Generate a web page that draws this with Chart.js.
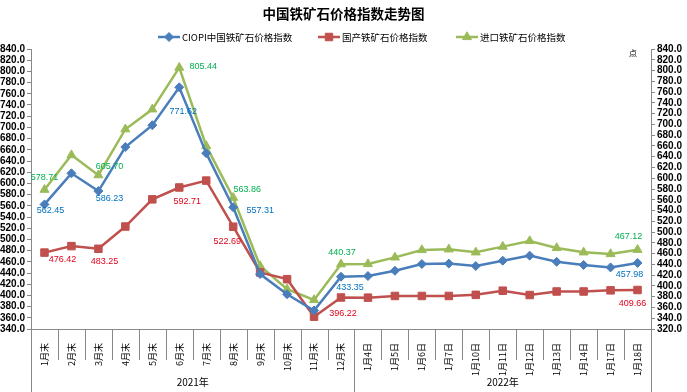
<!DOCTYPE html>
<html>
<head>
<meta charset="utf-8">
<script src="https://cdn.jsdelivr.net/npm/chart.js@4.4.1/dist/chart.umd.min.js"></script>
<style>
html, body { margin: 0; padding: 0; background: #fff; }
#wrap { width: 687px; height: 392px; }
</style>
</head>
<body>
<div id="wrap"><canvas id="chart"></canvas></div>
<script>
// categories (two level axis: month-ends of 2021, trading days of 2022)
const categories = ['1月末', '2月末', '3月末', '4月末', '5月末', '6月末', '7月末', '8月末', '9月末', '10月末', '11月末', '12月末',
    '1月4日', '1月5日', '1月6日', '1月7日', '1月10日', '1月11日', '1月12日', '1月13日', '1月14日', '1月17日', '1月18日'];
const yearLabels = ['2021年', '2022年'];
const yearStarts = [0, 12];

// series values
const ciopi = [562.45, 618, 586.23, 665, 704, 771.62, 654, 557.31, 438, 402, 373, 433.35,
    434.6, 444, 456, 456.8, 452.5, 462, 471, 460, 454.3, 450, 457.98];
const domestic = [476.42, 488, 483.25, 523, 571.5, 592.71, 605, 522.69, 441, 429, 362, 396.22,
    396, 399, 399, 399, 401, 408.4, 400.7, 407, 407, 409, 409.66];
const imported = [578.71, 643, 605.70, 691, 728, 805.44, 660, 563.86, 437, 394, 374, 440.37,
    440.7, 453, 466.7, 468, 462.4, 473, 483.5, 470.5, 462.4, 459.3, 467.12];

// which points carry a value label
const labelIndex = [0, 2, 5, 7, 11, 22];

// axis ranges
const leftMin = 340, leftMax = 840;
const rightMin = 320, rightMax = 840;
const tickStep = 20;

const CJK = '"Noto Sans CJK SC", "Liberation Sans", sans-serif';
const SANS = '"Liberation Sans", Arial, sans-serif';

// label placement relative to the point (dx, dy)
const labelOffsets = [
    [[6, 6], [11, 7], [4, 24], [27, 3], [9, 11], [-8, 12]],
    [[18, 7], [6, 13], [8, 14], [-6, 15], [2, 16], [-5, 14]],
    [[0, -12], [11, -9], [24, -1], [14, -8], [1, -12], [-9, -13]]
];
const labelColors = ['#0070C0', '#E0001B', '#00B050'];

const valueLabels = {
    id: 'valueLabels',
    afterDatasetsDraw(chart) {
        const ctx = chart.ctx;
        ctx.save();
        ctx.font = '9px ' + SANS;
        ctx.textAlign = 'center';
        ctx.textBaseline = 'middle';
        chart.data.datasets.forEach((ds, d) => {
            const meta = chart.getDatasetMeta(d);
            ctx.fillStyle = labelColors[d];
            labelIndex.forEach((idx, k) => {
                const pt = meta.data[idx];
                const off = labelOffsets[d][k];
                ctx.fillText(ds.data[idx].toFixed(2), pt.x + off[0], pt.y + off[1]);
            });
        });
        ctx.restore();
    }
};

// separators and year row under the category axis, plus legend
const axisDecor = {
    id: 'axisDecor',
    afterDraw(chart) {
        const ctx = chart.ctx;
        const xs = chart.scales.x;
        const bottom = chart.chartArea.bottom;
        const edge = i => {
            if (i <= 0) return xs.left;
            if (i >= categories.length) return xs.right;
            return (xs.getPixelForValue(i - 1) + xs.getPixelForValue(i)) / 2;
        };
        ctx.save();
        ctx.strokeStyle = '#888';
        ctx.lineWidth = 1;
        for (let i = 0; i <= categories.length; i++) {
            const isGroup = i === 0 || i === categories.length || yearStarts.includes(i);
            const x = Math.round(edge(i)) + 0.5;
            ctx.beginPath();
            ctx.moveTo(x, bottom);
            ctx.lineTo(x, isGroup ? chart.height : bottom + 31);
            ctx.stroke();
        }
        ctx.fillStyle = '#000';
        ctx.font = '10px ' + CJK;
        ctx.textAlign = 'center';
        ctx.textBaseline = 'middle';
        yearLabels.forEach((lab, g) => {
            const from = yearStarts[g];
            const to = g + 1 < yearStarts.length ? yearStarts[g + 1] : categories.length;
            ctx.fillText(lab, (edge(from) + edge(to)) / 2, 382);
        });

        // unit of the right axis
        ctx.font = '8px ' + CJK;
        ctx.fillText('点', 633, 53);

        // legend: line with marker, then the name
        ctx.font = '9.5px ' + CJK;
        ctx.textAlign = 'left';
        const legendX = [158, 318, 456];
        chart.data.datasets.forEach((ds, d) => {
            const x = legendX[d], y = 37;
            ctx.strokeStyle = ds.borderColor;
            ctx.lineWidth = 2.5;
            ctx.beginPath();
            ctx.moveTo(x, y);
            ctx.lineTo(x + 22, y);
            ctx.stroke();
            ctx.fillStyle = ds.backgroundColor;
            ctx.strokeStyle = ds.borderColor;
            ctx.lineWidth = 1;
            Chart.helpers.drawPoint(ctx, { pointStyle: ds.pointStyle, radius: ds.pointRadius, rotation: 0, borderWidth: 1 }, x + 11, y);
            ctx.fillStyle = '#000';
            ctx.fillText(ds.label, x + 24, y + 0.5);
        });
        ctx.restore();
    }
};

const yTicks = {
    stepSize: tickStep,
    autoSkip: false,
    color: '#000',
    padding: 2,
    font: { family: SANS, size: 10, weight: 'bold' },
    callback: v => Number(v).toFixed(1)
};

new Chart(document.getElementById('chart'), {
    type: 'line',
    data: {
        labels: categories,
        datasets: [{
            label: 'CIOPI中国铁矿石价格指数',
            data: ciopi,
            yAxisID: 'y',
            borderColor: '#4A7EBB',
            backgroundColor: '#4A7EBB',
            borderWidth: 2.5,
            pointStyle: 'rectRot',
            pointRadius: 4.5,
            pointBorderWidth: 1
        }, {
            label: '国产铁矿石价格指数',
            data: domestic,
            yAxisID: 'y',
            borderColor: '#C0504D',
            backgroundColor: '#C0504D',
            borderWidth: 2.5,
            pointStyle: 'rect',
            pointRadius: 5.3,
            pointBorderWidth: 1
        }, {
            label: '进口铁矿石价格指数',
            data: imported,
            yAxisID: 'y1',
            borderColor: '#9BBB59',
            backgroundColor: '#9BBB59',
            borderWidth: 2.5,
            pointStyle: 'triangle',
            pointRadius: 5.2,
            pointBorderWidth: 1
        }]
    },
    options: {
        responsive: true,
        maintainAspectRatio: false,
        animation: false,
        layout: { padding: 0 },
        scales: {
            x: {
                offset: true,
                grid: { display: false, offset: true },
                border: { display: true, color: '#888' },
                ticks: {
                    autoSkip: false,
                    minRotation: 90,
                    maxRotation: 90,
                    padding: 6,
                    color: '#000',
                    font: { family: CJK, size: 9 }
                },
                afterFit: s => { s.height = 63; }
            },
            y: {
                position: 'left',
                min: leftMin,
                max: leftMax,
                grid: { drawOnChartArea: false, tickLength: 4, color: '#888' },
                border: { display: true, color: '#888' },
                ticks: yTicks,
                afterFit: s => { s.width = 31; }
            },
            y1: {
                position: 'right',
                min: rightMin,
                max: rightMax,
                grid: { drawOnChartArea: false, tickLength: 4, color: '#888' },
                border: { display: true, color: '#888' },
                ticks: yTicks,
                afterFit: s => { s.width = 36; }
            }
        },
        plugins: {
            legend: { display: false },
            tooltip: { enabled: false },
            title: {
                display: true,
                text: '中国铁矿石价格指数走势图',
                color: '#000',
                font: { family: CJK, size: 13.5, weight: 'bold' },
                padding: { top: 6, bottom: 26.8 }
            }
        }
    },
    plugins: [valueLabels, axisDecor]
});
</script>
</body>
</html>
